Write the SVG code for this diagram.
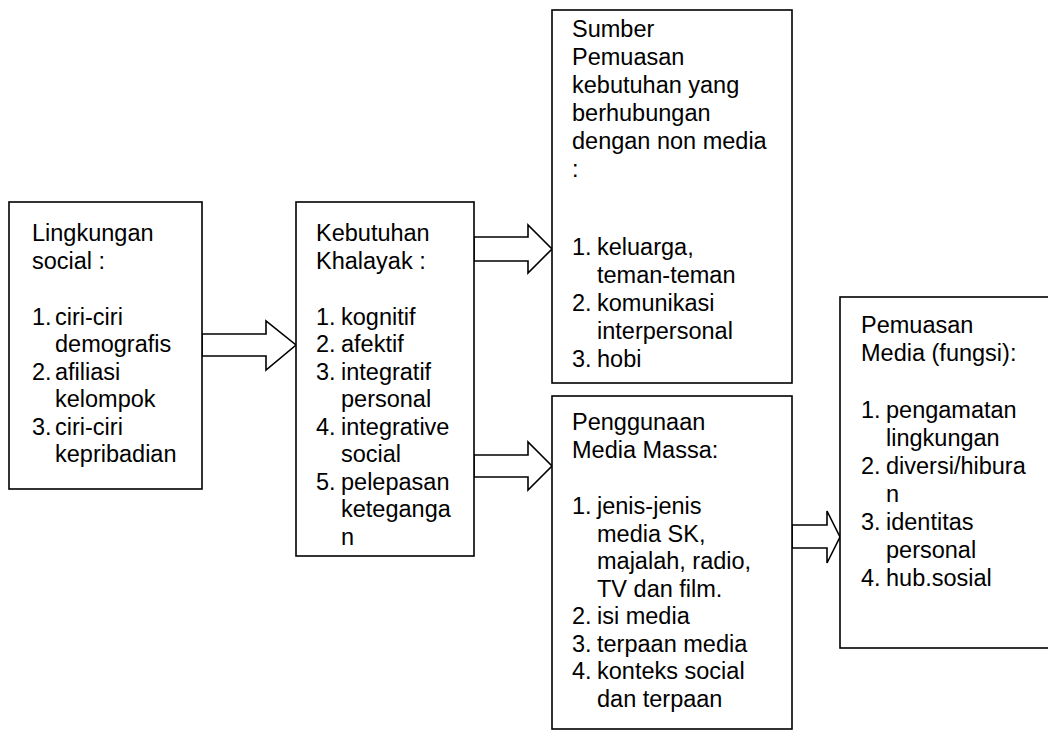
<svg xmlns="http://www.w3.org/2000/svg" width="1048" height="731" viewBox="0 0 1048 731">
<style>
.box{fill:#fff;stroke:#000;stroke-width:1.6}
.arr{fill:#fff;stroke:#000;stroke-width:1.6;stroke-linejoin:miter}
text{font-family:"Liberation Sans",Arial,sans-serif;font-size:23.5px;fill:#000}
</style>
<rect width="1048" height="731" fill="#fff"/>
<g id="connectors">
<polygon class="arr" points="202,334 266,334 266,321 296,345 266,370 266,356 202,356"/>
<polygon class="arr" points="474,237 528,237 528,225 552,249 528,273 528,261 474,261"/>
<polygon class="arr" points="474,455 528,455 528,442 552,466 528,490 528,477 474,477"/>
<polygon class="arr" points="792,525 827,525 827,511 840,537 827,563 827,548 792,548"/>
</g>
<g id="lingkungan">
<rect class="box" x="9" y="202" width="193" height="287"/>
<text><tspan x="32" y="241">Lingkungan</tspan><tspan x="32" y="268.5">social :</tspan>
<tspan x="32" y="324.5">1.</tspan><tspan x="55" y="324.5">ciri-ciri</tspan>
<tspan x="55" y="352">demografis</tspan>
<tspan x="32" y="379.5">2.</tspan><tspan x="55" y="379.5">afiliasi</tspan>
<tspan x="55" y="407">kelompok</tspan>
<tspan x="32" y="434.5">3.</tspan><tspan x="55" y="434.5">ciri-ciri</tspan>
<tspan x="55" y="462">kepribadian</tspan></text>
</g>
<g id="kebutuhan">
<rect class="box" x="296" y="202" width="178" height="354"/>
<text><tspan x="316" y="241">Kebutuhan</tspan><tspan x="316" y="268.5">Khalayak :</tspan>
<tspan x="316" y="324.5">1.</tspan><tspan x="341" y="324.5">kognitif</tspan>
<tspan x="316" y="352">2.</tspan><tspan x="341" y="352">afektif</tspan>
<tspan x="316" y="379.5">3.</tspan><tspan x="341" y="379.5">integratif</tspan>
<tspan x="341" y="407">personal</tspan>
<tspan x="316" y="434.5">4.</tspan><tspan x="341" y="434.5">integrative</tspan>
<tspan x="341" y="462">social</tspan>
<tspan x="316" y="489.5">5.</tspan><tspan x="341" y="489.5">pelepasan</tspan>
<tspan x="341" y="517">keteganga</tspan>
<tspan x="341" y="544.5">n</tspan></text>
</g>
<g id="sumber">
<rect class="box" x="552" y="10" width="240" height="373"/>
<text><tspan x="572" y="37">Sumber</tspan><tspan x="572" y="65">Pemuasan</tspan>
<tspan x="572" y="93">kebutuhan yang</tspan><tspan x="572" y="121">berhubungan</tspan>
<tspan x="572" y="149">dengan non media</tspan><tspan x="572" y="177">:</tspan>
<tspan x="572" y="255">1.</tspan><tspan x="597" y="255">keluarga,</tspan>
<tspan x="597" y="283">teman-teman</tspan>
<tspan x="572" y="311">2.</tspan><tspan x="597" y="311">komunikasi</tspan>
<tspan x="597" y="339">interpersonal</tspan>
<tspan x="572" y="367">3.</tspan><tspan x="597" y="367">hobi</tspan></text>
</g>
<g id="penggunaan">
<rect class="box" x="552" y="396" width="240" height="333"/>
<text><tspan x="572" y="430">Penggunaan</tspan><tspan x="572" y="457.5">Media Massa:</tspan>
<tspan x="572" y="514">1.</tspan><tspan x="597" y="514">jenis-jenis</tspan>
<tspan x="597" y="541.5">media SK,</tspan>
<tspan x="597" y="569">majalah, radio,</tspan>
<tspan x="597" y="596.5">TV dan film.</tspan>
<tspan x="572" y="624">2.</tspan><tspan x="597" y="624">isi media</tspan>
<tspan x="572" y="651.5">3.</tspan><tspan x="597" y="651.5">terpaan media</tspan>
<tspan x="572" y="679">4.</tspan><tspan x="597" y="679">konteks social</tspan>
<tspan x="597" y="706.5">dan terpaan</tspan></text>
</g>
<g id="pemuasan">
<rect class="box" x="840" y="297" width="220" height="351"/>
<text><tspan x="861" y="333">Pemuasan</tspan><tspan x="861" y="361">Media (fungsi):</tspan>
<tspan x="861" y="418">1.</tspan><tspan x="886" y="418">pengamatan</tspan>
<tspan x="886" y="446">lingkungan</tspan>
<tspan x="861" y="474">2.</tspan><tspan x="886" y="474">diversi/hibura</tspan>
<tspan x="886" y="502">n</tspan>
<tspan x="861" y="530">3.</tspan><tspan x="886" y="530">identitas</tspan>
<tspan x="886" y="558">personal</tspan>
<tspan x="861" y="586">4.</tspan><tspan x="886" y="586">hub.sosial</tspan></text>
</g>
</svg>
